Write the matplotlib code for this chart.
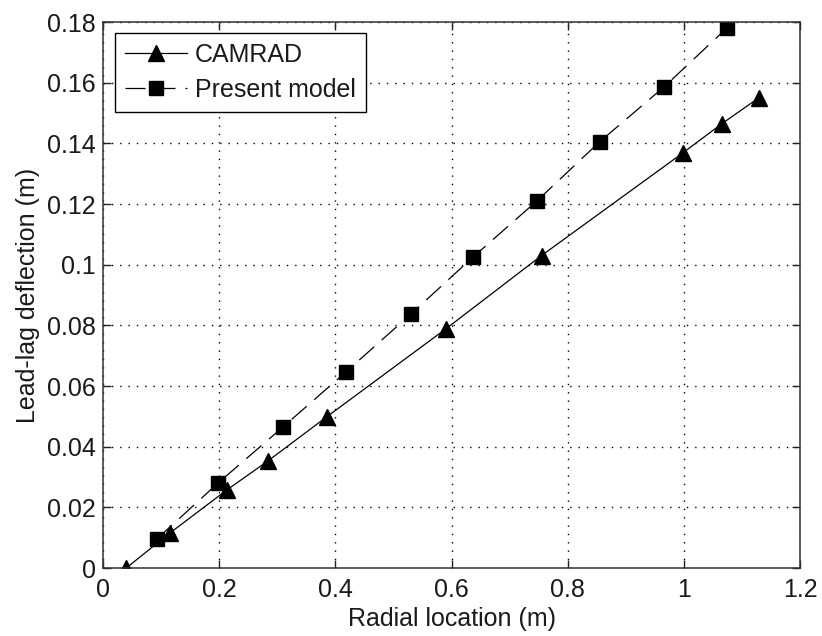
import matplotlib
matplotlib.use("Agg")
import matplotlib.pyplot as plt

# CAMRAD
camrad_x = [0.040, 0.115, 0.213, 0.284, 0.385, 0.590, 0.755, 0.998, 1.065, 1.129]
camrad_y = [0.000, 0.0115, 0.0257, 0.0353, 0.0498, 0.0788, 0.103, 0.1368, 0.1464, 0.155]
# Present model
model_x = [0.093, 0.198, 0.310, 0.418, 0.530, 0.637, 0.747, 0.855, 0.966, 1.074]
model_y = [0.0096, 0.028, 0.0465, 0.0646, 0.0837, 0.1025, 0.121, 0.1405, 0.1586, 0.178]

xticks = [0, 0.2, 0.4, 0.6, 0.8, 1, 1.2]
xtick_labels = ["0", "0.2", "0.4", "0.6", "0.8", "1", "1.2"]
yticks = [0, 0.02, 0.04, 0.06, 0.08, 0.1, 0.12, 0.14, 0.16, 0.18]
ytick_labels = ["0", "0.02", "0.04", "0.06", "0.08", "0.1", "0.12", "0.14", "0.16", "0.18"]

plt.rcParams['font.family'] = ['Liberation Sans', 'DejaVu Sans']
FS = 18
TXT = '#1a1a1a'

fig = plt.figure(figsize=(8.22, 6.36), dpi=100)
ax = fig.add_axes([103/822, 1-568/636, 697/822, 546/636])

ax.plot(camrad_x, camrad_y, color='black', lw=0.9, ls='-', marker='^',
        markersize=12, markerfacecolor='black', markeredgecolor='black', label='CAMRAD')
ax.plot(model_x, model_y, color='black', lw=0.9, dashes=(16, 8), marker='s',
        markersize=10, markerfacecolor='black', markeredgecolor='black', label='Present model')

ax.set_xlim(0, 1.2)
ax.set_ylim(0, 0.18)
ax.set_xticks(xticks)
ax.set_xticklabels(xtick_labels)
ax.set_yticks(yticks)
ax.set_yticklabels(ytick_labels)
ax.grid(True, color='black', linestyle=(0, (1, 5)), linewidth=1.0)
ax.tick_params(direction='in', length=6, width=1, top=True, right=True,
               labelsize=FS, colors='#222222', labelcolor=TXT)
ax.tick_params(axis='y', pad=5)
ax.tick_params(axis='x', pad=7)
for s in ax.spines.values():
    s.set_linewidth(1.1)
    s.set_color('#333333')

ax.set_xlabel('Radial location (m)', fontsize=FS, labelpad=4, color=TXT)
ax.set_ylabel('Lead-lag deflection (m)', fontsize=FS, labelpad=5, color=TXT)

leg = ax.legend(loc='upper left', bbox_to_anchor=(0.017, 0.98), fontsize=FS,
                frameon=True, fancybox=False, edgecolor='black', framealpha=1,
                handlelength=2.5, borderaxespad=0, borderpad=0.4, labelspacing=0.45,
                handletextpad=0.3)
leg.get_frame().set_linewidth(1.0)
for t in leg.get_texts():
    t.set_color(TXT)

fig.savefig('out.png', dpi=100)
